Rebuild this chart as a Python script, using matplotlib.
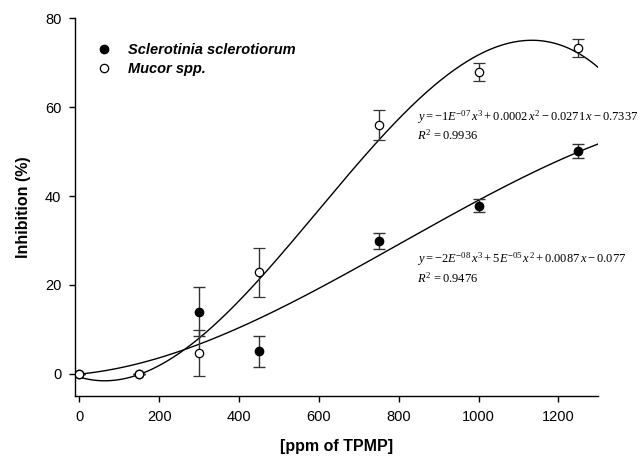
import numpy as np
import matplotlib
matplotlib.use("Agg")
import matplotlib.pyplot as plt
from matplotlib.lines import Line2D

plt.rcParams['font.family'] = ['Liberation Sans', 'DejaVu Sans']
plt.rcParams['mathtext.fontset'] = 'custom'
plt.rcParams['mathtext.rm'] = 'Liberation Serif'
plt.rcParams['mathtext.it'] = 'Liberation Serif:italic'

# data
ppm = [0, 150, 300, 450, 750, 1000, 1250]
scl_mean = [0, 0, 14.0, 5.1, 29.9, 37.8, 50.1]
scl_err = [0, 0, 5.5, 3.5, 1.8, 1.5, 1.5]
muc_mean = [0, 0, 4.7, 22.8, 56.0, 68.0, 73.3]
muc_err = [0, 0, 5.1, 5.6, 3.3, 2.0, 2.0]
series_names = ['Sclerotinia sclerotiorum', 'Mucor spp.']
eq_scl = r'$y=-2E^{-08}\,x^3+5E^{-05}\,x^2+0.0087\,x-0.077$'
r2_scl = r'$R^2\,=0.9476$'
eq_muc = r'$y=-1E^{-07}\,x^3+0.0002\,x^2-0.0271\,x-0.7337$'
r2_muc = r'$R^2\,=0.9936$'
xticks = [0, 200, 400, 600, 800, 1000, 1200]
yticks = [0, 20, 40, 60, 80]

fig = plt.figure(figsize=(6.44, 4.61), dpi=100)
ax = fig.add_axes([75.3/644, 1-396/461, (598.3-75.3)/644, (396-18.3)/461])

xs = np.linspace(0, 1300, 400)
for mean in (scl_mean, muc_mean):
    c = np.polyfit(ppm, mean, 3)
    ax.plot(xs, np.polyval(c, xs), color='black', lw=1.0, zorder=2)

ax.errorbar(ppm, scl_mean, yerr=scl_err, fmt='o', color='black', ms=6,
            mfc='black', mec='black', ecolor='#333333', elinewidth=1.0,
            capsize=4, capthick=1.0, zorder=3)
ax.errorbar(ppm, muc_mean, yerr=muc_err, fmt='o', color='black', ms=6,
            mfc='white', mec='black', mew=0.9, ecolor='#333333', elinewidth=1.0,
            capsize=4, capthick=1.0, zorder=4)

ax.set_xlim(-10, 1300)
ax.set_ylim(-5, 80)
ax.set_xticks(xticks)
ax.set_yticks(yticks)
for s in ('top', 'right'):
    ax.spines[s].set_visible(False)
for s in ('left', 'bottom'):
    ax.spines[s].set_linewidth(1.0)
ax.tick_params(direction='out', length=4, width=1.0, labelsize=10.5, pad=6)

ax.set_xlabel('[ppm of TPMP]', fontsize=11.5, fontweight='bold', labelpad=11)
ax.set_ylabel('Inhibition (%)', fontsize=11.5, fontweight='bold', labelpad=10)

handles = [Line2D([], [], marker='o', ls='none', color='black', mfc='black', ms=6),
           Line2D([], [], marker='o', ls='none', color='black', mfc='white', ms=6, mew=0.9)]
leg = ax.legend(handles, series_names, loc='upper left', bbox_to_anchor=(0.015, 0.97),
                frameon=False, handlelength=1.0, handletextpad=1.2, labelspacing=0.35,
                prop={'weight': 'bold', 'style': 'italic', 'size': 10.5})

ax.text(847, 57.8, eq_muc, fontsize=9, va='center', ha='left')
ax.text(847, 53.7, r2_muc, fontsize=9, va='center', ha='left')
ax.text(847, 25.8, eq_scl, fontsize=9, va='center', ha='left')
ax.text(847, 21.5, r2_scl, fontsize=9, va='center', ha='left')

fig.savefig('out.png', dpi=100)
